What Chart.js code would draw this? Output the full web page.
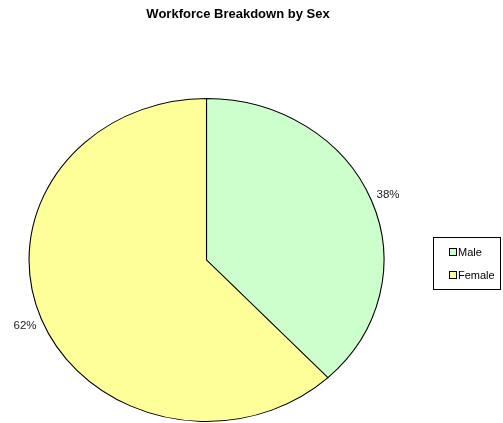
<!DOCTYPE html>
<html>
<head>
<meta charset="utf-8">
<script src="https://cdn.jsdelivr.net/npm/chart.js@4/dist/chart.umd.min.js"></script>
<style>
    html, body { margin: 0; padding: 0; background: #fff; }
    #wrap { width: 503px; height: 423px; }
</style>
</head>
<body>
<div id="wrap"><canvas id="sexChart" width="503" height="423"></canvas></div>
<script>
const chartTitle = 'Workforce Breakdown by Sex';
const categories = ['Male', 'Female'];
const shares = [38, 62];
const sliceColors = ['#CCFFCC', '#FFFF99'];

const FONT = '"Liberation Sans", Arial, sans-serif';
const X_STRETCH = 178 / 162; // pie is drawn slightly wider than tall

// stretch the pie horizontally around its centre
const ellipsePlugin = {
    id: 'ellipse',
    beforeDatasetsDraw(chart) {
        const arc = chart.getDatasetMeta(0).data[0];
        const ctx = chart.ctx;
        ctx.save();
        ctx.translate(arc.x, arc.y);
        ctx.scale(X_STRETCH, 1);
        ctx.translate(-arc.x, -arc.y);
    },
    afterDatasetsDraw(chart) {
        chart.ctx.restore();
    }
};

// title, percentage labels and boxed legend
const decorPlugin = {
    id: 'decor',
    afterDraw(chart) {
        const ctx = chart.ctx;
        const meta = chart.getDatasetMeta(0);
        const values = chart.data.datasets[0].data;
        const total = values.reduce((a, b) => a + b, 0);

        ctx.save();
        ctx.fillStyle = '#000';
        ctx.textBaseline = 'middle';
        ctx.textAlign = 'center';
        ctx.font = 'bold 13px ' + FONT;
        ctx.fillText(chartTitle, 238, 14);

        ctx.font = '11.5px ' + FONT;
        ctx.fillStyle = '#222';
        meta.data.forEach((arc, i) => {
            const mid = (arc.startAngle + arc.endAngle) / 2;
            const r = arc.outerRadius * 1.1;
            const x = arc.x + Math.cos(mid) * r * X_STRETCH;
            const y = arc.y + Math.sin(mid) * r;
            ctx.fillText(Math.round(values[i] / total * 100) + '%', x, y);
        });

        // legend
        ctx.strokeStyle = '#000';
        ctx.lineWidth = 1;
        ctx.strokeRect(433.5, 237.5, 67, 52);
        ctx.font = '11px ' + FONT;
        ctx.textAlign = 'left';
        chart.data.labels.forEach((label, i) => {
            const y = 252 + i * 23;
            ctx.fillStyle = chart.data.datasets[0].backgroundColor[i];
            ctx.fillRect(449.5, y - 3.5, 7, 7);
            ctx.strokeRect(449.5, y - 3.5, 7, 7);
            ctx.fillStyle = '#000';
            ctx.fillText(label, 458, y + 0.5);
        });
        ctx.restore();
    }
};

new Chart(document.getElementById('sexChart'), {
    type: 'pie',
    data: {
        labels: categories,
        datasets: [{
            data: shares,
            backgroundColor: sliceColors,
            borderColor: '#000',
            borderWidth: 1
        }]
    },
    options: {
        responsive: false,
        animation: false,
        events: [],
        layout: {
            padding: { top: 98, bottom: 1, left: 0, right: 90 }
        },
        plugins: {
            legend: { display: false },
            title: { display: false },
            tooltip: { enabled: false }
        }
    },
    plugins: [ellipsePlugin, decorPlugin]
});
</script>
</body>
</html>
